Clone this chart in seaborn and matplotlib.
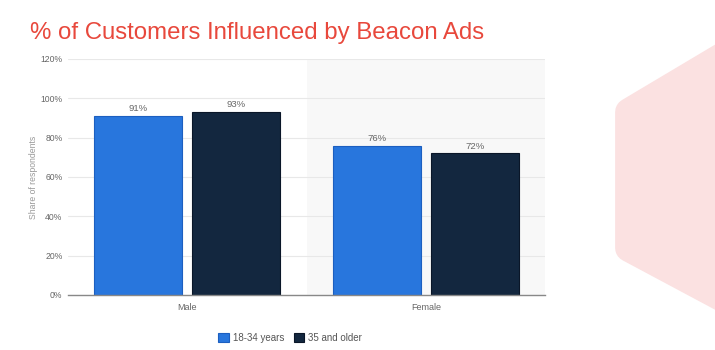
import matplotlib
matplotlib.use("Agg")
import matplotlib.pyplot as plt
from matplotlib.patches import Polygon, Patch
import seaborn as sns
import pandas as pd

# Survey results: share of customers influenced by beacon ads
genders = ["Male", "Female"]
age_groups = ["18-34 years", "35 and older"]
young_values = [91, 76]
older_values = [93, 72]
y_ticks = [0, 20, 40, 60, 80, 100, 120]

colors = ["#2876dd", "#13273f"]
edge_colors = ["#1c5fc0", "#0a1628"]

df = pd.DataFrame({
    "gender": genders * 2,
    "age": [age_groups[0]] * 2 + [age_groups[1]] * 2,
    "share": young_values + older_values,
})

sns.set_theme(style="white")
plt.rcParams["font.family"] = ["Liberation Sans", "DejaVu Sans"]

fig = plt.figure(figsize=(7.15, 3.5), dpi=100)
fig.patch.set_facecolor("white")

# Decorative pink hexagon on the right edge (rounded corners via thick round joins)
hexagon = Polygon(
    [(760 / 715, 1 - 34 / 350), (629 / 715, 1 - 112 / 350),
     (629 / 715, 1 - 248 / 350), (760 / 715, 1 - 318 / 350)],
    closed=True, transform=fig.transFigure, facecolor="#fbe1e1",
    edgecolor="#fbe1e1", linewidth=20, joinstyle="round", zorder=0,
)
fig.patches.append(hexagon)

ax = fig.add_axes([68 / 715, 1 - 295 / 350, (545 - 68) / 715, (295 - 59) / 350])
ax.set_facecolor("none")

# Light shading behind the second category
ax.axvspan(0.5, 1.5, color="#f8f8f8", zorder=0, lw=0)

sns.barplot(
    data=df, x="gender", y="share", hue="age", order=genders,
    hue_order=age_groups, palette=colors, width=0.82, gap=0.1,
    ax=ax, legend=False, zorder=3, saturation=1,
)

for container, ec in zip(ax.containers, edge_colors):
    for bar in container:
        bar.set_edgecolor(ec)
        bar.set_linewidth(0.8)
    ax.bar_label(container, labels=[f"{v:.0f}%" for v in container.datavalues],
                 padding=2, fontsize=6.8, color="#666666")

ax.set_xlim(-0.5, 1.5)
ax.set_ylim(0, 120)
ax.set_yticks(y_ticks)
ax.set_yticklabels([f"{t}%" for t in y_ticks])
ax.yaxis.grid(True, color="#e8e8e8", linewidth=0.8, zorder=1)
ax.set_axisbelow(True)
for side in ["top", "right", "left"]:
    ax.spines[side].set_visible(False)
ax.spines["bottom"].set_color("#888888")
ax.spines["bottom"].set_linewidth(1.0)
ax.spines["bottom"].set_zorder(4)

ax.tick_params(axis="y", length=0, labelsize=6.2, labelcolor="#666666", pad=4)
ax.tick_params(axis="x", length=0, labelsize=6.5, labelcolor="#666666", pad=6)
ax.set_xlabel("")
ax.set_ylabel("Share of respondents", fontsize=6.2, color="#999999", labelpad=2)

fig.text(30 / 715, 1 - 33 / 350, "% of Customers Influenced by Beacon Ads",
         fontsize=17.3, color="#e8483c", va="center", ha="left")

handles = [Patch(facecolor=c, edgecolor=ec, linewidth=0.8, label=l)
           for c, ec, l in zip(colors, edge_colors, age_groups)]
fig.legend(handles=handles, loc="center", bbox_to_anchor=(290 / 715, 1 - 338 / 350),
           ncol=2, frameon=False, fontsize=7, labelcolor="#555555",
           handlelength=1.1, handleheight=1.1, handletextpad=0.4, columnspacing=1.0)

fig.savefig("out.png", dpi=100, facecolor="white")
